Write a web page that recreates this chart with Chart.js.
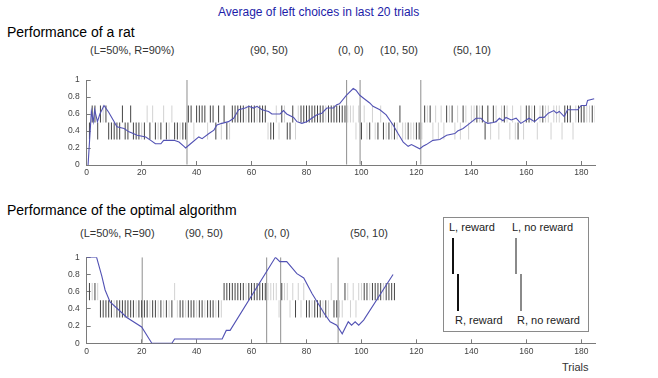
<!DOCTYPE html>
<html><head><meta charset="utf-8">
<script src="https://cdn.jsdelivr.net/npm/chart.js@4.4.1/dist/chart.umd.min.js"></script>
<style>
html,body{margin:0;padding:0;background:#fff;}
body{width:658px;height:378px;position:relative;overflow:hidden;font-family:"Liberation Sans",Arial,sans-serif;}
.t{position:absolute;white-space:nowrap;line-height:1;}
.a{font-size:11px;color:#333;}
canvas{position:absolute;left:0;}
.lg{position:absolute;}
</style></head><body>
<div class="t" style="left:218px;top:6px;font-size:12px;color:#1c1ca8;">Average of left choices in last 20 trials</div>
<div class="t" style="left:7px;top:25px;font-size:14px;color:#000;">Performance of a rat</div>
<div class="t a" style="left:90px;top:45px;">(L=50%, R=90%)</div>
<div class="t a" style="left:250px;top:45px;">(90, 50)</div>
<div class="t a" style="left:338px;top:45px;">(0, 0)</div>
<div class="t a" style="left:380px;top:45px;">(10, 50)</div>
<div class="t a" style="left:453px;top:45px;">(50, 10)</div>

<div class="t" style="left:7px;top:203px;font-size:14px;color:#000;">Performance of the optimal algorithm</div>
<div class="t a" style="left:80px;top:228px;">(L=50%, R=90)</div>
<div class="t a" style="left:185px;top:228px;">(90, 50)</div>
<div class="t a" style="left:264px;top:228px;">(0, 0)</div>
<div class="t a" style="left:350px;top:228px;">(50, 10)</div>
<div class="t a" style="left:562px;top:362px;">Trials</div>

<div class="lg" style="left:443px;top:217px;width:144px;height:113px;border:1px solid #8a8a8a;background:#fff;"></div>
<div class="t a" style="left:449px;top:222px;color:#222;">L, reward</div>
<div class="t a" style="left:512px;top:222px;color:#222;">L, no reward</div>
<div class="t a" style="left:455px;top:315px;color:#222;">R, reward</div>
<div class="t a" style="left:517px;top:315px;color:#222;">R, no reward</div>
<div class="lg" style="left:452px;top:238px;width:2px;height:36px;background:#111;"></div>
<div class="lg" style="left:457px;top:274px;width:2px;height:37px;background:#111;"></div>
<div class="lg" style="left:515px;top:238px;width:1.5px;height:36px;background:#8a8a8a;"></div>
<div class="lg" style="left:520px;top:274px;width:1.5px;height:37px;background:#8a8a8a;"></div>

<canvas id="top" width="658" height="190" style="top:0px;width:658px;height:190px;"></canvas>
<canvas id="bot" width="658" height="188" style="top:190px;width:658px;height:188px;"></canvas>

<script>
// Choice codes per trial: L = left rewarded, l = left not rewarded, R = right rewarded, r = right not rewarded
const ratBlocks = [
  "RLLRLlLRRRRRLRRLRRRrRlRlRrRlRrlRRrRR",
  "LLrLLLLrLLRLrLRrLLLLLlLLLlLLLrRRlrLlRRLrlLLLLLLLLLlLLLLLLL",
  "lllrl",
  "RlrRlrRlRrRrRrLrrRrrRR",
  "rLlLrlrlrLlLrlrLlrllLlLRLrLlrlLlrlrRlrLLlLrlLllrlllrLLLrlLLLllLl"
];
const algoBlocks = [
  "LlLlRRRRRrRRRRRRRrRR",
  "RRrRRrRrRrRlrRRrRRRrRRrRRRrRrLLLLLLLLlLLLLLLL",
  "llllr",
  "LllrlRlrlRRrRRRrRrlRR",
  "rrLlrlrllLLlLLLLlLLLL"
];
const ratBlockEdges = [36.5, 94.6, 99.5, 121.6];
const algoBlockEdges = [20.2, 65.5, 70.6, 91.5];

const ratAvgTrial = [0.5,1.7,2.4,2.9,3.9,4.8,6.3,8,10,11,13.6,15.4,18.4,21.5,23.3,25,27,28,31.8,33.6,35.4,36,37.8,40.8,42,44.5,46.3,47.4,49.2,51.6,53.5,55.3,57.7,59,60.7,62,63.8,66.2,67.4,70.4,71.6,72.8,75.3,76.5,78.3,80.1,81.9,83.8,85.6,87.4,89.8,91,92,94.5,97,98,99.4,101,103,104.2,106.7,109,111.5,113.3,115.2,117,118.2,119.4,121.2,122.4,123.6,126,128.5,131,134,135,137,139.4,141.7,143.5,144.7,146,148,149,150.2,151.5,152.6,154.5,156.3,158,161,163,164.8,166.5,168,170,171,172,173.8,175,178.7,180,181.8,182.3,184.7];
const ratAvgValue = [0,0.63,0.51,0.65,0.51,0.6,0.7,0.62,0.51,0.45,0.43,0.39,0.35,0.33,0.29,0.25,0.25,0.29,0.29,0.27,0.22,0.2,0.25,0.33,0.31,0.37,0.41,0.47,0.49,0.51,0.55,0.65,0.67,0.69,0.67,0.69,0.65,0.63,0.6,0.6,0.64,0.6,0.56,0.51,0.49,0.51,0.55,0.59,0.61,0.67,0.67,0.71,0.72,0.82,0.9,0.88,0.82,0.78,0.73,0.69,0.65,0.59,0.47,0.37,0.27,0.22,0.24,0.22,0.19,0.22,0.24,0.29,0.3,0.35,0.37,0.4,0.43,0.49,0.55,0.55,0.51,0.49,0.5,0.51,0.55,0.52,0.56,0.53,0.55,0.49,0.55,0.51,0.56,0.56,0.61,0.64,0.61,0.63,0.57,0.65,0.65,0.7,0.7,0.76,0.78];

const algoAvgTrial = [0,3.6,5.5,6.7,8.5,11.6,14.6,20,23.7,31,32,49.3,50.8,52.2,68.7,70.3,72.8,76.5,79,82,86.8,88.6,91,93,95.2,96.4,97.7,99,100.8,111.5];
const algoAvgValue = [1,1,0.78,0.62,0.48,0.39,0.3,0.19,0,0,0.05,0.05,0.15,0.15,1,0.95,0.95,0.81,0.76,0.58,0.33,0.25,0.21,0.11,0.25,0.21,0.25,0.21,0.27,0.8];

const xTickValues = [0,20,40,60,80,100,120,140,160,180];
const yTickValues = [0,0.2,0.4,0.6,0.8,1];
const yTickLabels = ['0','0.2','0.4','0.6','0.8','1'];
const leftBand = [0.5,0.7];
const rightBand = [0.3,0.5];

function makeChart(id, blocks, edges, avgX, avgY, pad) {
  const choices = blocks.join('').split('');
  const marks = (code, band) => choices.map((c,i)=> c===code ? {x:i+1, y:band} : null).filter(Boolean);
  const dark = '#454545', light = '#d2d2d2';
  const barDs = (data, color, th, order) => ({type:'bar', data, backgroundColor:color, borderWidth:0, inflateAmount:0, barThickness:th, grouped:false, order});
  const axisColor = '#7a7a7a';
  const tickFont = {family:'"Liberation Sans", Arial, sans-serif', size:8.5};
  new Chart(document.getElementById(id), {
    type:'bar',
    data:{datasets:[
      {type:'line', data: avgX.map((x,i)=>({x, y:avgY[i]})), borderColor:'#5252b4', borderWidth:1.1, pointRadius:0, tension:0, fill:false, order:0},
      barDs(marks('L', leftBand), dark, 1, 1),
      barDs(marks('R', rightBand), dark, 1, 1),
      barDs(edges.map(x=>({x, y:[0,1]})), '#8e8e8e', 1, 2),
      barDs(marks('l', leftBand), light, 1, 3),
      barDs(marks('r', rightBand), light, 1, 3)
    ]},
    options:{
      responsive:false, animation:false, devicePixelRatio:1,
      layout:{padding:pad},
      plugins:{legend:{display:false}, tooltip:{enabled:false}},
      scales:{
        x:{type:'linear', min:0, max:185, offset:false,
           afterFit: s => { s.height = 20; },
           afterBuildTicks: s => { s.ticks = xTickValues.map(v=>({value:v})); },
           ticks:{padding:7, color:'#444', font:tickFont, maxRotation:0, autoSkip:false, callback:v=>String(v)},
           grid:{drawOnChartArea:false, offset:false, tickLength:-4, color:axisColor},
           border:{color:axisColor}},
        y:{type:'linear', min:0, max:1,
           afterFit: s => { s.width = 30; },
           afterBuildTicks: s => { s.ticks = yTickValues.map(v=>({value:v})); },
           ticks:{padding:11, color:'#444', font:tickFont, callback:v=>yTickLabels[yTickValues.indexOf(v)]},
           grid:{drawOnChartArea:false, tickLength:-4, color:axisColor},
           border:{color:axisColor}}
      }
    }
  });
}
makeChart('top', ratBlocks, ratBlockEdges, ratAvgTrial, ratAvgValue, {left:56.7, right:63, top:80, bottom:5});
makeChart('bot', algoBlocks, algoBlockEdges, algoAvgTrial, algoAvgValue, {left:56.7, right:63, top:67.3, bottom:14.7});
</script>
</body></html>
